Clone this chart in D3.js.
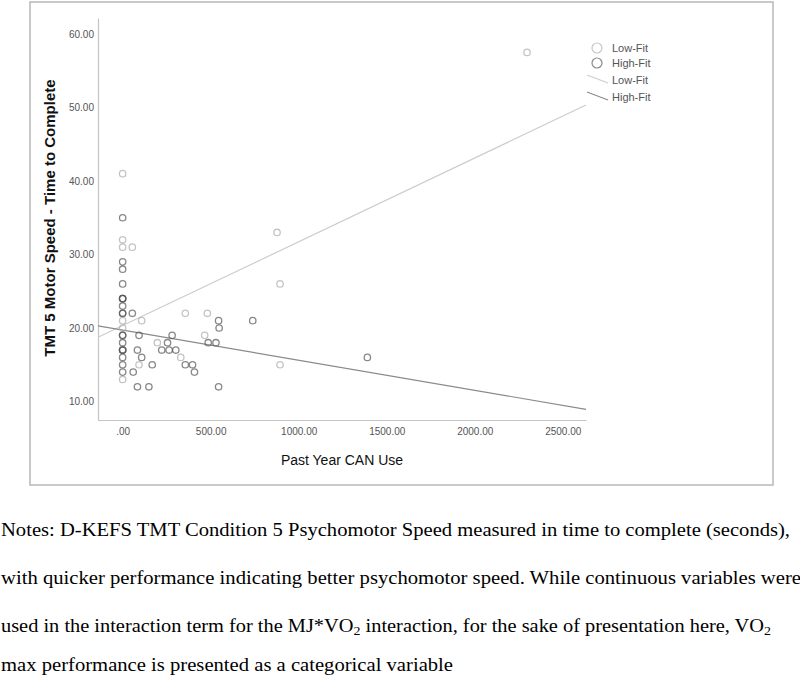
<!DOCTYPE html>
<html>
<head>
<meta charset="utf-8">
<script src="https://cdn.jsdelivr.net/npm/d3@7"></script>
<style>
  body { margin: 0; background: #fff; }
  svg { display: block; }
</style>
</head>
<body>
<svg id="chart"></svg>
<script>
//data
const lowFitX = [0, 0, 0, 0, 0, 0, 55, 108, 93, 197, 330, 356, 481, 466, 877, 894, 894, 2297]
const lowFitY = [41, 32, 31, 21, 20, 13, 31, 21, 15, 18, 16, 22, 22, 19, 33, 26, 15, 57.5]

const highFitX = [0, 0, 0, 0, 0, 0, 0, 0, 0, 0, 0, 0, 0, 0, 0, 0, 0, 0, 0,
                  55, 93, 84, 108, 60, 168, 84, 149, 222, 255, 281, 264, 302,
                  356, 397, 408, 486, 530, 545, 548, 545, 739, 1390]
const highFitY = [35, 29, 28, 26, 24, 24, 23, 22, 22, 19, 19, 18, 17, 17, 17, 16, 15, 14, 24,
                  22, 19, 17, 16, 14, 15, 12, 12, 17, 18, 19, 17, 17,
                  15, 15, 14, 18, 18, 21, 20, 12, 21, 16]

//fit lines: intercept, slope
const lowFitLine = [20.33, 0.0114]
const highFitLine = [19.72, -0.0041]

const xTicks = [0, 500, 1000, 1500, 2000, 2500]
const yTicks = [10, 20, 30, 40, 50, 60]

const legendLabels = ['Low-Fit', 'High-Fit', 'Low-Fit', 'High-Fit']

const notes = [
  'Notes: D-KEFS TMT Condition 5 Psychomotor Speed measured in time to complete (seconds),',
  'with quicker performance indicating better psychomotor speed. While continuous variables were',
  ['used in the interaction term for the MJ*VO', '2', ' interaction, for the sake of presentation here, VO', '2'],
  'max performance is presented as a categorical variable'
]

const lowColor = '#b0b0b0'
const highColor = '#555'

const width = 800
const height = 679

const svg = d3.select('#chart')
              .attr('width', width)
              .attr('height', height)

//outer frame
svg.append('rect')
   .attr('x', 30).attr('y', 2)
   .attr('width', 743).attr('height', 483)
   .attr('fill', 'none')
   .attr('stroke', '#b8b8b8')
   .attr('stroke-width', 1.5)

//scales
const xScale = d3.scaleLinear()
                 .domain([-140, 2632])
                 .range([98, 586])

const yScale = d3.scaleLinear()
                 .domain([7.48, 62.18])
                 .range([420, 18])

const fmt = d => d === 0 ? '.00' : d3.format('.2f')(d)

//axes
const xAxis = d3.axisBottom(xScale)
                .tickValues(xTicks)
                .tickFormat(fmt)
                .tickSize(0)
                .tickPadding(8)

const yAxis = d3.axisLeft(yScale)
                .tickValues(yTicks)
                .tickFormat(fmt)
                .tickSize(0)
                .tickPadding(4)

const gx = svg.append('g')
              .attr('transform', 'translate(0, 420)')
              .call(xAxis)

const gy = svg.append('g')
              .attr('transform', 'translate(98, 0)')
              .call(yAxis)

;[gx, gy].forEach(g => {
  g.select('.domain').attr('stroke', '#c4c4c4').attr('stroke-width', 1.2)
  g.selectAll('text')
   .attr('fill', '#555')
   .style('font-family', '"Liberation Sans", Arial, sans-serif')
   .style('font-size', '10px')
})

//axis titles
svg.append('text')
   .attr('x', 342).attr('y', 465)
   .attr('text-anchor', 'middle')
   .style('font-family', '"Liberation Sans", Arial, sans-serif')
   .style('font-size', '14px')
   .attr('fill', '#111')
   .text('Past Year CAN Use')

svg.append('text')
   .attr('transform', 'translate(55, 218) rotate(-90)')
   .attr('text-anchor', 'middle')
   .style('font-family', '"Liberation Sans", Arial, sans-serif')
   .style('font-size', '15px')
   .style('font-weight', 'bold')
   .attr('fill', '#111')
   .text('TMT 5 Motor Speed - Time to Complete')

//fit lines
const fitLine = (coef, color) => {
  const xs = xScale.domain()
  svg.append('line')
     .attr('x1', xScale(xs[0])).attr('y1', yScale(coef[0] + coef[1] * xs[0]))
     .attr('x2', xScale(xs[1])).attr('y2', yScale(coef[0] + coef[1] * xs[1]))
     .attr('stroke', color)
     .attr('stroke-width', 1.2)
}
fitLine(lowFitLine, '#cdcdcd')
fitLine(highFitLine, '#8a8a8a')

//points
const drawPoints = (xs, ys, color, opacity) => {
  svg.append('g')
     .selectAll('circle')
     .data(xs.map((x, i) => [x, ys[i]]))
     .join('circle')
     .attr('cx', d => xScale(d[0]))
     .attr('cy', d => yScale(d[1]))
     .attr('r', 3.2)
     .attr('fill', 'none')
     .attr('stroke', color)
     .attr('stroke-opacity', opacity)
     .attr('stroke-width', 1.3)
}
drawPoints(lowFitX, lowFitY, lowColor, 0.75)
drawPoints(highFitX, highFitY, highColor, 0.7)

//legend
const legend = svg.append('g').attr('transform', 'translate(597, 0)')
const legendY = [48, 63, 80, 97]

legend.selectAll('circle')
      .data([lowColor, highColor])
      .join('circle')
      .attr('cx', 0)
      .attr('cy', (d, i) => legendY[i])
      .attr('r', 5)
      .attr('fill', 'none')
      .attr('stroke', (d, i) => i === 0 ? '#c8c8c8' : '#8a8a8a')
      .attr('stroke-width', 1.2)

legend.selectAll('line')
      .data(['#cdcdcd', '#8a8a8a'])
      .join('line')
      .attr('x1', -10).attr('y1', (d, i) => legendY[i + 2] - 5)
      .attr('x2', 11).attr('y2', (d, i) => legendY[i + 2] + 3)
      .attr('stroke', d => d)
      .attr('stroke-width', 1.2)

legend.selectAll('text')
      .data(legendLabels)
      .join('text')
      .attr('x', 15)
      .attr('y', (d, i) => legendY[i])
      .attr('dy', '0.35em')
      .attr('fill', '#555')
      .style('font-family', '"Liberation Sans", Arial, sans-serif')
      .style('font-size', '11px')
      .text(d => d)

//notes below the chart
const notesY = [536, 584, 632, 671]
const notesLen = [789, 800, 770, 452]

notes.forEach((line, i) => {
  const t = svg.append('text')
               .attr('x', 1)
               .attr('y', notesY[i])
               .attr('textLength', notesLen[i])
               .attr('lengthAdjust', 'spacingAndGlyphs')
               .attr('fill', '#000')
               .style('font-family', '"Liberation Serif", "Times New Roman", serif')
               .style('font-size', '19px')
  if (Array.isArray(line)) {
    line.forEach((part, j) => {
      const sub = j % 2 === 1
      t.append('tspan')
       .attr('baseline-shift', sub ? '-25%' : null)
       .style('font-size', sub ? '13px' : null)
       .text(part)
    })
  } else {
    t.text(line)
  }
})
</script>
</body>
</html>
